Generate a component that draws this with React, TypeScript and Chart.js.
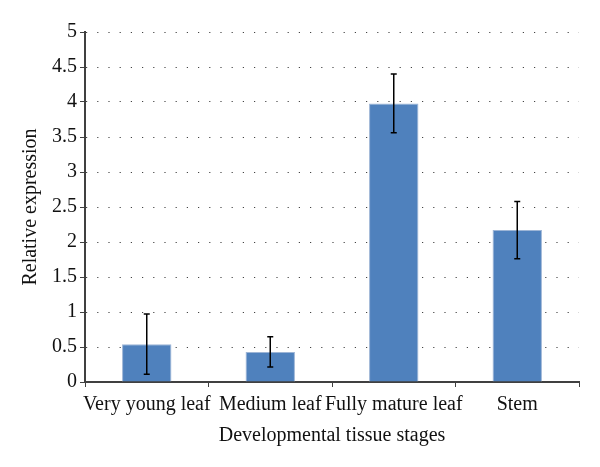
import React, { useEffect, useRef } from "react";
import { Chart, registerables } from "chart.js";

Chart.register(...registerables);

const categories = ["Very young leaf", "Medium leaf", "Fully mature leaf", "Stem"];
const values = [0.54, 0.43, 3.98, 2.17];
const errors = [0.43, 0.215, 0.42, 0.41];
const yTicks = [0, 0.5, 1, 1.5, 2, 2.5, 3, 3.5, 4, 4.5, 5];

const FONT = "'Liberation Serif', 'DejaVu Serif', serif";

const errorBarPlugin = {
  id: "errorBars",
  afterDatasetsDraw(chart: any) {
    const ctx = chart.ctx;
    const meta = chart.getDatasetMeta(0);
    const yScale = chart.scales.y;
    ctx.save();
    ctx.strokeStyle = "#000";
    ctx.lineWidth = 1.5;
    meta.data.forEach((bar: any, i: number) => {
      const x = bar.x;
      const top = yScale.getPixelForValue(values[i] + errors[i]);
      const bot = yScale.getPixelForValue(values[i] - errors[i]);
      ctx.beginPath();
      ctx.moveTo(x, top);
      ctx.lineTo(x, bot);
      ctx.moveTo(x - 3, top);
      ctx.lineTo(x + 3, top);
      ctx.moveTo(x - 3, bot);
      ctx.lineTo(x + 3, bot);
      ctx.stroke();
    });
    ctx.restore();
  },
};

export default function App() {
  const ref = useRef<HTMLCanvasElement>(null);
  useEffect(() => {
    document.body.style.margin = "0";
    const chart = new Chart(ref.current!, {
      type: "bar",
      data: {
        labels: categories,
        datasets: [
          {
            data: values,
            backgroundColor: "#4F81BD",
            borderColor: "#9DB5D6",
            borderWidth: 1,
            barPercentage: 0.4,
            categoryPercentage: 1,
          },
        ],
      },
      options: {
        animation: false,
        responsive: false,
        layout: { padding: { top: 32, right: 21, left: 15, bottom: 15 } },
        plugins: { legend: { display: false }, tooltip: { enabled: false } },
        scales: {
          x: {
            grid: {
              drawOnChartArea: false,
              drawTicks: true,
              tickLength: 5,
              color: "#404040",
              offset: true,
            },
            border: { color: "#404040", width: 2 },
            ticks: {
              color: "#111",
              font: { family: FONT, size: 20 },
              padding: 6,
              maxRotation: 0,
              minRotation: 0,
              autoSkip: false,
            },
            title: {
              display: true,
              text: "Developmental tissue stages",
              color: "#111",
              font: { family: FONT, size: 20 },
              padding: { top: 1 },
            },
          },
          y: {
            min: 0,
            max: 5,
            afterBuildTicks: (axis: any) => {
              axis.ticks = yTicks.map((v) => ({ value: v }));
            },
            grid: {
              color: "#444",
              tickColor: "#404040",
              tickLength: 5,
              lineWidth: 1,
            },
            border: { color: "#404040", width: 2, dash: [1.2, 10] },
            ticks: {
              color: "#111",
              font: { family: FONT, size: 20 },
              padding: 3,
              callback: (v: any) => String(v),
            },
            title: {
              display: true,
              text: "Relative expression",
              color: "#111",
              font: { family: FONT, size: 20 },
              padding: { bottom: 6 },
            },
          },
        },
      },
      plugins: [errorBarPlugin],
    });
    return () => chart.destroy();
  }, []);
  return <canvas ref={ref} width={600} height={467} style={{ display: "block" }} />;
}
